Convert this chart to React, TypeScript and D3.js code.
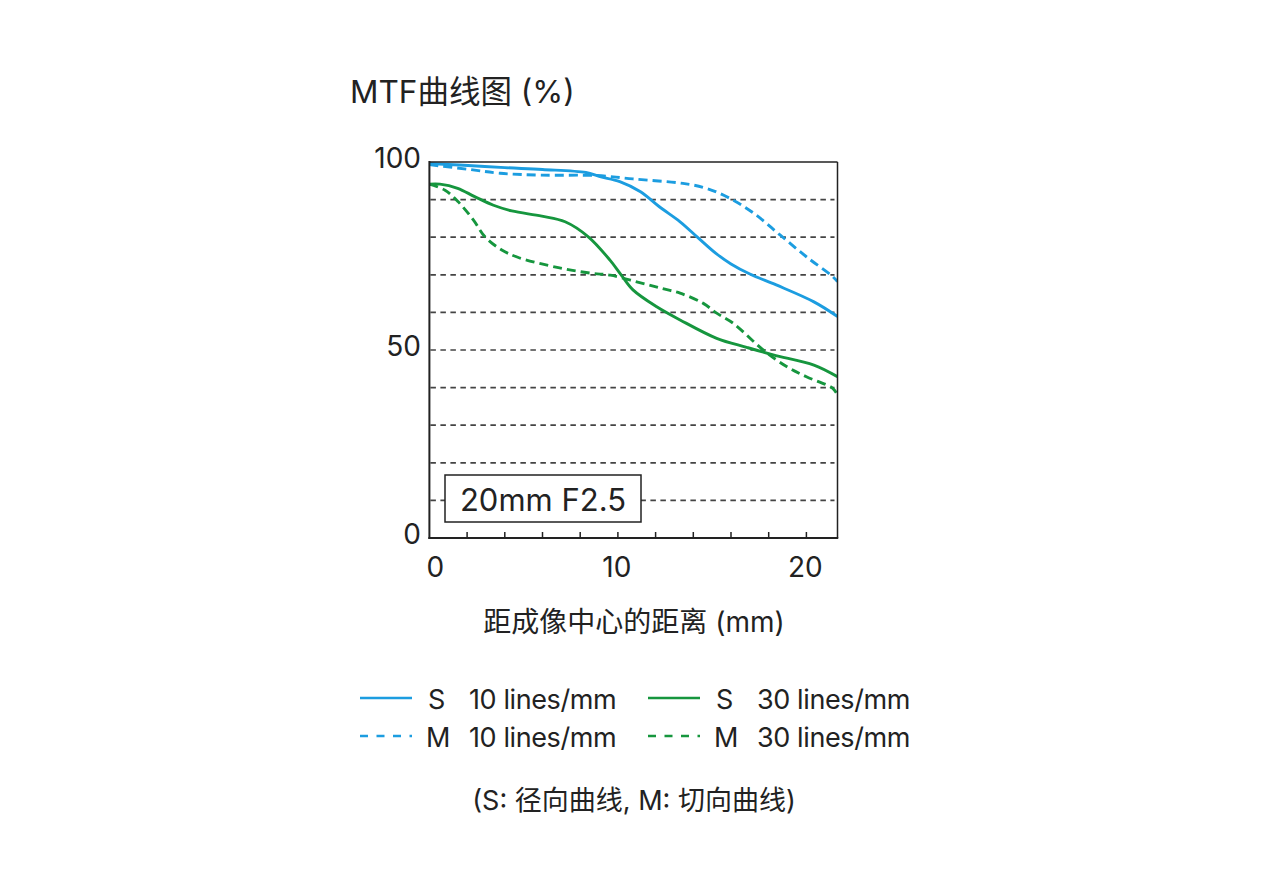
import React from "react";
import * as d3 from "d3";

const xTicksMajor = [0, 10, 20];
const xTicksMinor = [2, 4, 6, 8, 10, 12, 14, 16, 18, 20];
const yTickLabels = [0, 50, 100];
const yGrid = [10, 20, 30, 40, 50, 60, 70, 80, 90];

const s10: [number, number][] = [
  [0, 99.6], [1.6, 99.2], [4, 98.5], [6, 98], [8.3, 97.2], [9.05, 96.1], [10.1, 94.8],
  [11.2, 92.1], [12.2, 88.1], [13.3, 84.1], [14.2, 80.1], [15.2, 75.7], [16, 72.9],
  [17, 70.2], [18.4, 67.3], [20.4, 62.8], [21.65, 58.9],
];
const m10: [number, number][] = [
  [0, 99.3], [2.15, 98], [3.75, 97], [5.9, 96.5], [8.9, 96.4], [10.8, 95.5], [13.45, 94.3],
  [14.7, 93], [15.95, 90.3], [17.2, 86.4], [18.6, 80.6], [20, 74.8], [21.4, 69.5], [21.65, 68.2],
];
const s30: [number, number][] = [
  [0, 94.1], [0.56, 94.1], [1.5, 93], [2.4, 90.8], [3.4, 88.5], [4.37, 87], [5.96, 85.6],
  [7.2, 84.1], [8.43, 80.1], [9.58, 73.9], [10.2, 69.8], [10.8, 66], [12.06, 61.5], [13.3, 58],
  [15.24, 53.1], [16.83, 50.7], [18.24, 48.7], [20.4, 46], [21.65, 42.9],
];
const m30: [number, number][] = [
  [0, 94.1], [0.83, 92.5], [1.53, 89.4], [2.33, 84.6], [2.95, 80.1], [3.84, 76.6], [4.72, 74.6],
  [6.84, 71.9], [8.6, 70.4], [9.6, 69.9], [11.1, 68], [12.3, 66.4], [13.3, 65.1], [14.53, 62.4],
  [15.24, 59.8], [16.12, 57.1], [17.71, 50], [18.95, 45.6], [20, 42.9], [21.4, 39.8], [21.65, 38],
];

const BLUE = "#1c9de0";
const GREEN = "#16963e";
const INK = "#222";
const FONT = "Inter, 'Noto Sans CJK SC', sans-serif";

const series = [
  { name: "S10", data: s10, color: BLUE, dash: null as string | null },
  { name: "M10", data: m10, color: BLUE, dash: "9,5" },
  { name: "S30", data: s30, color: GREEN, dash: null as string | null },
  { name: "M30", data: m30, color: GREEN, dash: "9,5" },
];

const legendItems = [
  { type: "S", freq: "10 lines/mm", color: BLUE, dashed: false, col: 0, row: 0 },
  { type: "M", freq: "10 lines/mm", color: BLUE, dashed: true, col: 0, row: 1 },
  { type: "S", freq: "30 lines/mm", color: GREEN, dashed: false, col: 1, row: 0 },
  { type: "M", freq: "30 lines/mm", color: GREEN, dashed: true, col: 1, row: 1 },
];

export default function App() {
  const left = 429.4;
  const right = 837.5;
  const top = 162;
  const bottom = 538;
  const x = d3.scaleLinear().domain([0, 21.65]).range([left, right]);
  const y = d3.scaleLinear().domain([0, 100]).range([bottom, top]);
  const line = d3
    .line<[number, number]>()
    .x((d) => x(d[0]))
    .y((d) => y(d[1]))
    .curve(d3.curveCatmullRom.alpha(0.5));

  const labelDx: Record<number, number> = { 0: 6, 10: -1, 20: -1 };

  return (
    <svg
      width={1262}
      height={892}
      style={{ position: "absolute", left: 0, top: 0, background: "#fff", display: "block" }}
      fontFamily={FONT}
    >
      <text x={350} y={103} fontSize={31.5} fill={INK}>
        MTF曲线图 (%)
      </text>

      {/* grid */}
      {yGrid.map((g) => (
        <line
          key={g}
          x1={left + 1}
          x2={right - 3}
          y1={y(g)}
          y2={y(g)}
          stroke="#444"
          strokeWidth={1.7}
          strokeDasharray="5.5,4.5"
        />
      ))}

      {/* x inner ticks */}
      {xTicksMinor.map((t) => (
        <line key={t} x1={x(t)} x2={x(t)} y1={bottom} y2={bottom - 6} stroke={INK} strokeWidth={1.5} />
      ))}

      {/* curves */}
      <defs>
        <clipPath id="plot">
          <rect x={left} y={top - 4} width={right - left} height={bottom - top + 4} />
        </clipPath>
      </defs>
      <g clipPath="url(#plot)">
        {series.map((s) => (
          <path
            key={s.name}
            d={line(s.data) || ""}
            fill="none"
            stroke={s.color}
            strokeWidth={2.9}
            strokeDasharray={s.dash || undefined}
          />
        ))}
      </g>

      {/* frame */}
      <line x1={left} x2={right} y1={top} y2={top} stroke={INK} strokeWidth={1.5} />
      <line x1={right} x2={right} y1={top} y2={bottom} stroke={INK} strokeWidth={1.5} />
      <line x1={left} x2={left} y1={top - 1} y2={bottom + 1} stroke={INK} strokeWidth={2} />
      <line x1={left - 1} x2={right + 0.75} y1={bottom} y2={bottom} stroke={INK} strokeWidth={2} />

      {/* lens box */}
      <rect x={445} y={475} width={196} height={47} fill="#fff" stroke={INK} strokeWidth={1.5} />
      <text x={543} y={511} fontSize={31} textAnchor="middle" fill={INK}>
        20mm F2.5
      </text>

      {/* y labels */}
      {yTickLabels.map((t) => (
        <text key={t} x={421} y={y(t) + 6} fontSize={28} textAnchor="end" fill={INK}>
          {t}
        </text>
      ))}
      {/* x labels */}
      {xTicksMajor.map((t) => (
        <text key={t} x={x(t) + (labelDx[t] || 0)} y={577} fontSize={28} textAnchor="middle" fill={INK}>
          {t}
        </text>
      ))}

      <text x={634} y={632} fontSize={28} textAnchor="middle" fill={INK}>
        距成像中心的距离 (mm)
      </text>

      {/* legend */}
      {legendItems.map((it, i) => {
        const lx = it.col === 0 ? 360 : 648;
        const ly = it.row === 0 ? 698 : 736;
        return (
          <g key={i}>
            <line
              x1={lx}
              x2={lx + 52}
              y1={ly}
              y2={ly}
              stroke={it.color}
              strokeWidth={2.6}
              strokeDasharray={it.dashed ? "8,8.5" : undefined}
            />
            <text x={lx + (it.type === "S" ? 68 : 66)} y={ly + 11} fontSize={27} fill={INK}>
              {it.type}
            </text>
            <text x={lx + 109} y={ly + 11} fontSize={27} fill={INK} letterSpacing={-0.4}>
              {it.freq}
            </text>
          </g>
        );
      })}

      <text x={634} y={810} fontSize={27} textAnchor="middle" fill={INK}>
        (S: 径向曲线, M: 切向曲线)
      </text>
    </svg>
  );
}
